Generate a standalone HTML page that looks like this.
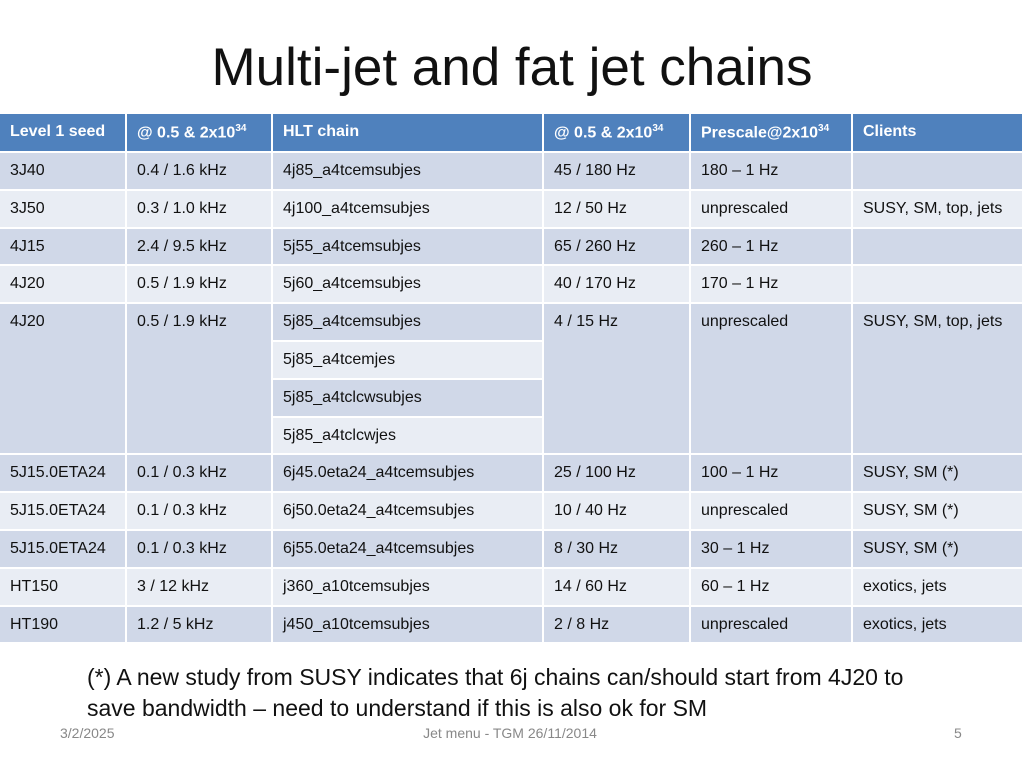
<!DOCTYPE html>
<html><head><meta charset="utf-8"><style>
body{margin:0;width:1024px;height:768px;background:#fff;font-family:"Liberation Sans",sans-serif;position:relative;overflow:hidden}
.t{position:absolute;left:0;width:1024px;top:37px;text-align:center;font-size:53px;color:#111}
.c{position:absolute;box-sizing:border-box;padding:9px 0 0 10px;font-size:16px;color:#111;white-space:nowrap}
.h{background:#4f81bd;color:#fff;font-weight:bold;font-size:16px}
.d{background:#d0d8e8}.l{background:#e9edf4}
sup{font-size:10px}
.note{position:absolute;left:87px;top:662px;font-size:23px;line-height:31px;color:#111}
.f{position:absolute;top:725px;font-size:14px;color:#888}
</style></head><body>
<div class="t">Multi-jet and fat jet chains</div>
<div id="tbl"></div>
<div class="note">(*) A new study from SUSY indicates that 6j chains can/should start from 4J20 to<br>save bandwidth – need to understand if this is also ok for SM</div>
<div class="f" style="left:60px">3/2/2025</div>
<div class="f" style="left:360px;width:300px;text-align:center">Jet menu - TGM 26/11/2014</div>
<div class="f" style="left:954px">5</div>
<script>
const colX=[0,127,273,544,691,853,1024];
const headers=["Level 1 seed","@ 0.5 & 2x10<sup>34</sup>","HLT chain","@ 0.5 & 2x10<sup>34</sup>","Prescale@2x10<sup>34</sup>","Clients"];
const rows=[
["3J40","0.4 / 1.6 kHz","4j85_a4tcemsubjes","45 / 180 Hz","180 – 1 Hz",""],
["3J50","0.3 / 1.0 kHz","4j100_a4tcemsubjes","12 / 50 Hz","unprescaled","SUSY, SM, top, jets"],
["4J15","2.4 / 9.5 kHz","5j55_a4tcemsubjes","65 / 260 Hz","260 – 1 Hz",""],
["4J20","0.5 / 1.9 kHz","5j60_a4tcemsubjes","40 / 170 Hz","170 – 1 Hz",""],
["4J20","0.5 / 1.9 kHz","5j85_a4tcemsubjes","4 / 15 Hz","unprescaled","SUSY, SM, top, jets"],
[null,null,"5j85_a4tcemjes",null,null,null],
[null,null,"5j85_a4tclcwsubjes",null,null,null],
[null,null,"5j85_a4tclcwjes",null,null,null],
["5J15.0ETA24","0.1 / 0.3 kHz","6j45.0eta24_a4tcemsubjes","25 / 100 Hz","100 – 1 Hz","SUSY, SM (*)"],
["5J15.0ETA24","0.1 / 0.3 kHz","6j50.0eta24_a4tcemsubjes","10 / 40 Hz","unprescaled","SUSY, SM (*)"],
["5J15.0ETA24","0.1 / 0.3 kHz","6j55.0eta24_a4tcemsubjes","8 / 30 Hz","30 – 1 Hz","SUSY, SM (*)"],
["HT150","3 / 12 kHz","j360_a10tcemsubjes","14 / 60 Hz","60 – 1 Hz","exotics, jets"],
["HT190","1.2 / 5 kHz","j450_a10tcemsubjes","2 / 8 Hz","unprescaled","exotics, jets"]];
const T=document.getElementById('tbl');
const top0=114,hh=37,rh=37.8;
function cell(x0,x1,y0,h,cls,html,name){
 const e=document.createElement('div');
 
 
 e.className='c '+cls;
 e.style.left=x0+'px';e.style.width=(x1-x0-2)+'px';e.style.top=y0+'px';e.style.height=h+'px';
 e.innerHTML=html;T.appendChild(e);}
headers.forEach((h,j)=>cell(colX[j],colX[j+1],top0,hh,'h',h,'header-cell'));
rows.forEach((r,i)=>{
 const y=top0+hh+2+i*rh;
 const cls=i%2?'l':'d';
 r.forEach((v,j)=>{
  if(v===null)return;
  let span=1;
  if(i===4&&j!==2)span=4;
  cell(colX[j],colX[j+1],y,span*rh-2,cls,v,'table-cell');
 });
});
</script>
</body></html>
